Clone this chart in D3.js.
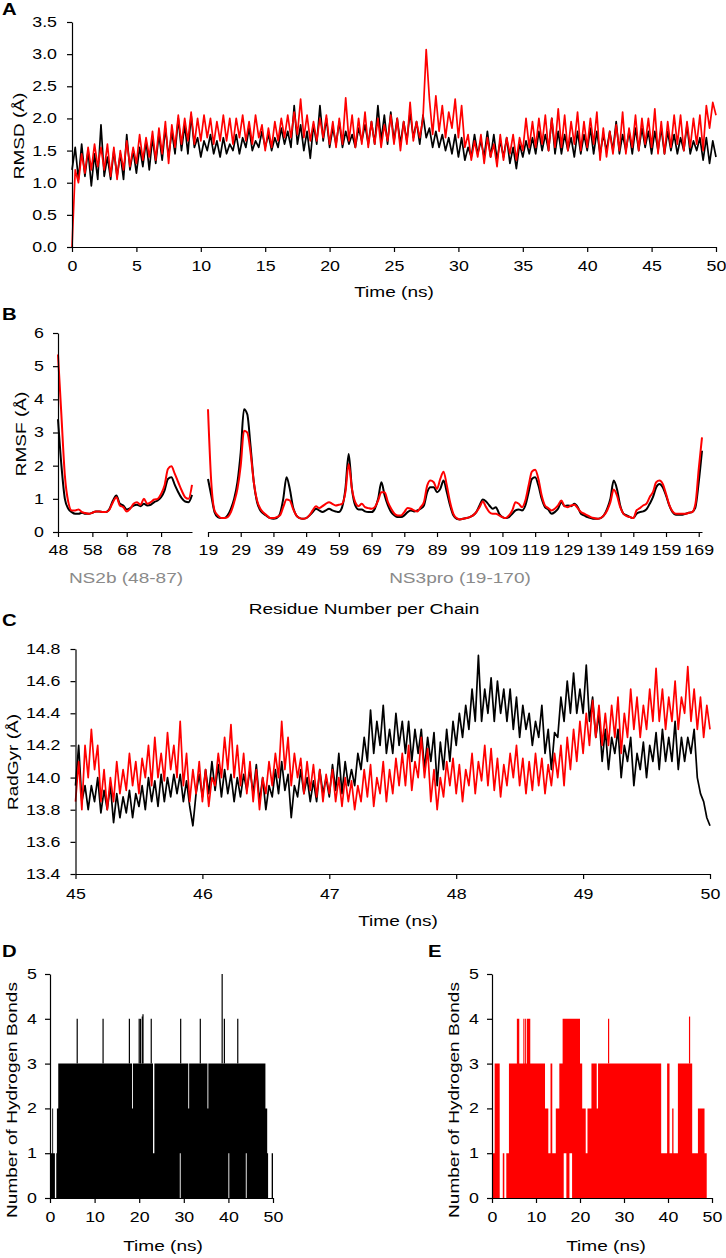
<!DOCTYPE html>
<html>
<head>
<meta charset="utf-8">
<script src="https://cdn.jsdelivr.net/npm/d3@7"></script>
<style>
  body { margin: 0; background: #fff; }
  text { font-family: "Liberation Sans", Arial, sans-serif; }
</style>
</head>
<body>
<svg id="fig" width="726" height="1258"></svg>
<script>
// ---- Panel A: backbone RMSD, sampled every 0.25 ns from 0 to 50 ns
const rmsdStep = 0.25;
const rmsdBlack = [
  1.20,1.55,1.05,1.60, 1.10,1.50,0.95,1.45, 1.05,1.90,1.10,1.40, 1.05,1.50,1.10,1.45, 1.05,1.75,1.20,1.50,
  1.15,1.55,1.25,1.65, 1.20,1.70,1.30,1.75, 1.35,1.85,1.40,1.80, 1.45,2.00,1.50,1.90, 1.45,2.05,1.55,1.70,
  1.40,1.65,1.50,1.75, 1.45,1.65,1.40,1.70, 1.45,1.60,1.50,1.75, 1.45,1.70,1.55,1.85, 1.50,1.65,1.55,1.80,
  1.55,1.75,1.50,1.70, 1.55,1.85,1.60,1.80, 1.55,2.20,1.60,1.90, 1.50,1.80,1.38,1.90, 1.60,2.20,1.65,2.00,
  1.55,1.85,1.60,1.95, 1.55,1.80,1.60,1.75, 1.55,1.85,1.65,1.90, 1.60,1.95,1.60,2.20, 1.65,2.05,1.60,2.10,
  1.65,2.00,1.60,1.95, 1.65,2.10,1.70,1.95, 1.60,2.05,1.70,1.85, 1.55,1.80,1.55,1.75, 1.50,1.70,1.45,1.75,
  1.40,1.70,1.35,1.55, 1.40,1.75,1.45,1.65, 1.40,1.80,1.40,1.75, 1.35,1.65,1.40,1.70, 1.30,1.55,1.22,1.60,
  1.40,1.65,1.45,1.70, 1.45,1.80,1.50,1.75, 1.50,2.00,1.45,1.80, 1.45,1.75,1.50,1.70, 1.40,1.80,1.45,1.75,
  1.50,1.85,1.45,1.80, 1.45,1.75,1.50,1.80, 1.50,1.95,1.45,1.75, 1.50,1.80,1.45,1.85, 1.50,1.85,1.55,1.80,
  1.45,1.80,1.50,1.85, 1.45,1.80,1.50,1.75, 1.45,1.70,1.50,1.90, 1.45,1.65,1.50,1.70, 1.35,1.70,1.30,1.65,
  1.40
];
const rmsdRed = [
  0.00,1.20,1.00,1.45, 1.15,1.55,1.20,1.60, 1.25,1.55,1.20,1.60, 1.10,1.55,1.05,1.50, 1.20,1.65,1.25,1.55,
  1.30,1.75,1.35,1.70, 1.40,1.80,1.35,1.85, 1.45,1.95,1.30,1.90, 1.55,2.05,1.60,2.00, 1.65,2.10,1.60,2.00,
  1.65,2.05,1.70,2.00, 1.60,1.95,1.65,2.05, 1.65,2.00,1.60,2.00, 1.70,2.05,1.65,1.95, 1.60,2.05,1.70,1.90,
  1.50,1.85,1.55,1.95, 1.65,2.00,1.70,2.05, 1.70,2.10,1.75,2.30, 1.70,2.05,1.65,1.95, 1.65,2.00,1.70,2.05,
  1.60,1.95,1.55,2.00, 1.60,2.32,1.65,2.05, 1.55,2.00,1.60,2.10, 1.55,1.95,1.60,2.00, 1.55,1.90,1.65,2.05,
  1.60,2.00,1.50,1.95, 1.60,2.25,1.65,1.95, 1.70,2.00,3.07,2.30, 1.75,2.35,1.80,2.20, 1.70,2.10,1.85,2.30,
  1.70,2.20,1.55,1.75, 1.35,1.65,1.40,1.75, 1.30,1.70,1.40,1.60, 1.25,1.75,1.35,1.70, 1.45,1.75,1.35,1.70,
  1.50,2.00,1.55,1.95, 1.55,2.00,1.60,2.05, 1.50,2.00,1.55,2.15, 1.55,2.05,1.50,1.95, 1.60,2.10,1.50,1.95,
  1.55,2.00,1.60,2.10, 1.35,1.85,1.40,1.80, 1.45,1.90,1.50,2.10, 1.45,1.85,1.55,2.05, 1.50,2.00,1.60,2.00,
  1.55,2.15,1.45,1.95, 1.45,1.95,1.55,2.05, 1.60,2.05,1.50,1.95, 1.55,2.00,1.60,2.05, 1.50,2.20,1.85,2.25,
  2.05
];
const rmsdXTicks = [0, 5, 10, 15, 20, 25, 30, 35, 40, 45, 50];
const rmsdYTicks = [0, 0.5, 1, 1.5, 2, 2.5, 3, 3.5];

// ---- Panel B: RMSF per residue, NS2b 48-87 and NS3pro 19-170
const ns2bStart = 48;
const ns2bBlack = [
  3.40,2.00,1.00,0.70,0.60,0.55,0.55,0.58,0.55,0.55,
  0.58,0.62,0.62,0.60,0.60,0.70,0.95,1.10,0.85,0.80,
  0.68,0.72,0.80,0.82,0.78,0.85,0.80,0.82,0.90,0.95,
  1.05,1.25,1.60,1.65,1.42,1.20,1.02,0.92,0.90,1.12
];
const ns2bRed = [
  5.35,3.50,1.70,0.90,0.65,0.65,0.68,0.60,0.57,0.55,
  0.58,0.62,0.62,0.60,0.60,0.68,0.90,1.05,0.80,0.75,
  0.62,0.70,0.85,0.90,0.82,1.00,0.85,0.90,0.98,1.00,
  1.15,1.40,1.90,1.98,1.75,1.50,1.25,1.05,1.00,1.42
];
const ns3Start = 19;
const ns3Black = [
  1.60,1.10,0.60,0.45,0.42,0.42,0.50,0.70,1.00,1.50,
  2.40,3.70,3.55,2.60,1.50,0.90,0.65,0.55,0.48,0.42,
  0.40,0.42,0.55,1.00,1.65,1.30,0.75,0.50,0.42,0.40,
  0.42,0.50,0.60,0.70,0.65,0.60,0.65,0.70,0.65,0.62,
  0.60,0.75,1.30,2.35,1.30,0.80,0.68,0.68,0.62,0.60,
  0.60,0.70,1.00,1.50,1.10,0.80,0.60,0.50,0.45,0.45,
  0.50,0.60,0.65,0.62,0.65,0.70,0.80,1.20,1.35,1.35,
  1.20,1.30,1.55,1.20,0.80,0.50,0.40,0.38,0.40,0.42,
  0.45,0.50,0.60,0.80,0.98,0.92,0.80,0.70,0.75,0.55,
  0.45,0.42,0.45,0.55,0.65,0.68,0.65,0.80,1.20,1.60,
  1.65,1.40,1.00,0.75,0.68,0.55,0.60,0.70,0.90,0.78,
  0.80,0.78,0.85,0.75,0.55,0.50,0.45,0.42,0.40,0.40,
  0.42,0.50,0.70,1.00,1.55,1.30,0.80,0.55,0.50,0.45,
  0.42,0.55,0.60,0.62,0.68,0.85,1.05,1.35,1.45,1.35,
  1.10,0.80,0.60,0.52,0.52,0.52,0.55,0.58,0.60,0.75,
  1.50,2.45
];
const ns3Red = [
  3.70,1.50,0.65,0.50,0.42,0.42,0.45,0.60,0.90,1.30,
  2.00,3.05,3.00,2.40,1.50,0.95,0.70,0.58,0.50,0.42,
  0.42,0.45,0.50,0.75,0.98,0.95,0.70,0.50,0.42,0.40,
  0.42,0.50,0.65,0.78,0.72,0.78,0.85,0.90,0.85,0.80,
  0.82,0.85,1.20,2.05,1.30,0.90,0.78,0.85,0.75,0.72,
  0.70,0.75,0.95,1.20,1.20,0.90,0.70,0.55,0.50,0.50,
  0.60,0.72,0.70,0.65,0.62,0.75,0.90,1.40,1.55,1.50,
  1.30,1.60,1.82,1.40,0.90,0.55,0.42,0.38,0.40,0.42,
  0.45,0.50,0.60,0.75,0.92,0.75,0.60,0.55,0.55,0.50,
  0.45,0.42,0.50,0.65,0.90,0.85,0.75,0.95,1.40,1.82,
  1.88,1.60,1.10,0.80,0.72,0.65,0.70,0.80,0.95,0.78,
  0.75,0.80,0.82,0.72,0.60,0.55,0.50,0.45,0.42,0.40,
  0.42,0.50,0.65,0.90,1.28,1.10,0.75,0.55,0.48,0.45,
  0.42,0.65,0.72,0.80,0.85,1.05,1.20,1.50,1.55,1.45,
  1.15,0.82,0.62,0.55,0.55,0.55,0.55,0.58,0.60,0.85,
  1.90,2.85
];
const ns2bTicks = [48, 58, 68, 78];
const ns3Ticks = [19, 29, 39, 49, 59, 69, 79, 89, 99, 109, 119, 129, 139, 149, 159, 169];
const rmsfYTicks = [0, 1, 2, 3, 4, 5, 6];

// ---- Panel C: radius of gyration, 45-50 ns sampled every 0.025 ns
const rgStart = 45, rgStep = 0.025;
const rgBlack = [
  13.95,14.20,13.85,13.95, 13.80,13.95,13.85,14.00, 13.78,13.92,13.80,13.95, 13.72,13.90,13.75,13.88, 13.78,13.92,13.75,13.90,
  13.82,13.95,13.80,14.00, 13.85,13.98,13.82,14.02, 13.85,14.00,13.88,14.02, 13.90,14.02,13.85,13.98, 13.82,13.70,13.90,14.02,
  13.88,14.05,13.90,14.10, 13.92,14.08,13.88,14.05, 13.90,14.02,13.85,14.00, 13.88,14.02,13.92,14.05, 13.90,14.08,13.85,14.00,
  13.80,13.95,13.88,14.05, 13.90,14.10,13.92,14.02, 13.75,13.95,13.88,14.05, 13.90,14.00,13.85,13.98, 13.85,14.05,13.90,14.00,
  13.88,14.08,13.92,14.15, 13.90,14.10,13.95,14.05, 13.95,14.15,14.05,14.25, 14.10,14.42,14.15,14.35, 14.20,14.45,14.15,14.30,
  14.15,14.40,14.20,14.35, 14.15,14.35,14.10,14.30, 14.15,14.30,14.05,14.25, 14.10,14.28,13.95,14.22, 14.05,14.30,14.10,14.35,
  14.20,14.40,14.25,14.45, 14.30,14.55,14.35,14.76, 14.35,14.55,14.40,14.62, 14.35,14.60,14.40,14.55, 14.35,14.55,14.30,14.50,
  14.25,14.45,14.30,14.40, 14.20,14.35,14.25,14.45, 14.15,14.30,14.05,14.28, 14.25,14.50,14.35,14.60, 14.40,14.65,14.40,14.55,
  14.40,14.70,14.35,14.50, 14.25,14.40,14.10,14.30, 14.05,14.25,14.15,14.30, 14.00,14.20,14.10,14.25, 13.95,14.15,14.05,14.22,
  14.00,14.20,14.10,14.28, 14.05,14.30,14.10,14.25, 14.10,14.35,14.05,14.25, 14.10,14.25,14.15,14.30, 14.00,13.90,13.85,13.75,
  13.70
];
const rgRed = [
  13.85,14.10,13.80,14.20, 14.00,14.30,14.05,14.20, 13.85,14.05,13.80,14.00, 13.85,14.10,13.90,14.05, 13.92,14.15,13.95,14.10,
  13.90,14.12,14.00,14.20, 13.95,14.25,14.00,14.15, 13.98,14.28,14.05,14.20, 14.00,14.35,13.95,14.15, 13.85,14.05,13.90,14.10,
  13.85,14.05,13.82,14.00, 13.95,14.15,14.00,14.25, 14.05,14.33,14.00,14.20, 13.95,14.15,13.90,14.10, 13.85,14.05,13.80,14.00,
  13.90,14.10,13.95,14.15, 14.00,14.35,14.05,14.25, 13.95,14.15,14.00,14.12, 13.90,14.10,13.92,14.08, 13.88,14.05,13.85,14.02,
  13.90,14.05,13.85,14.00, 13.82,14.00,13.85,13.98, 13.80,13.95,13.85,14.05, 13.88,14.08,13.82,14.00, 13.90,14.10,13.85,14.05,
  13.90,14.12,13.95,14.15, 13.95,14.20,13.92,14.10, 14.00,14.25,14.00,14.18, 13.85,14.05,13.80,14.00, 13.88,14.10,13.95,14.12,
  13.90,14.08,13.85,14.05, 13.95,14.15,13.90,14.10, 13.98,14.20,13.95,14.18, 13.92,14.12,13.88,14.08, 13.95,14.15,14.00,14.20,
  13.95,14.12,13.90,14.10, 13.92,14.15,13.95,14.12, 13.90,14.08,13.95,14.15, 14.00,14.20,13.95,14.25, 14.05,14.30,14.10,14.35,
  14.15,14.40,14.20,14.48, 14.25,14.45,14.20,14.40, 14.20,14.45,14.25,14.50, 14.15,14.40,14.25,14.55, 14.30,14.50,14.25,14.45,
  14.30,14.55,14.35,14.68, 14.35,14.55,14.30,14.50, 14.35,14.60,14.30,14.50, 14.40,14.69,14.35,14.55, 14.30,14.50,14.25,14.45,
  14.30
];
const rgXTicks = [45, 46, 47, 48, 49, 50];
const rgYTicks = [13.4, 13.6, 13.8, 14.0, 14.2, 14.4, 14.6, 14.8];

// ---- Panels D/E: hydrogen bonds, drawn as step bands (segment start time, lowest and highest count)
const hbBlackT  = [0, 0.5, 0.7, 1.1, 1.4, 1.55, 1.85, 18.4, 18.6, 23.1, 23.4, 29.1, 29.3, 31.0, 31.2, 35.3, 35.5, 40.0, 40.2, 43.9, 44.1, 48.3, 48.7, 48.9, 49.7, 50];
const hbBlackLo = [0, 0,   0,   0,   0,   0,    0,    0,    0,    0,    0,    1,    0,    0,    0,    0,    0,    1,    0,    1,    0,    0,    0,    0,    0,    0];
const hbBlackHi = [1, 2,   1,   0,   1,   2,    3,    2,    3,    1,    3,    3,    3,    2,    3,    2,    3,    3,    3,    3,    3,    2,    1,    0,    1,    1];
const hbBlackSpikeT = [6.1, 11.9, 17.8, 20.0, 20.3, 20.7, 20.85, 22.7, 29.3, 33.7, 38.6, 39.1, 42.1];
const hbBlackSpikeV = [4, 4, 4, 4, 4, 4.05, 4.1, 4, 4, 4, 5, 4, 4];

const hbRedT  = [0, 0.6, 1.75, 2.45, 2.8, 3.25, 3.85, 5.65, 6.2, 7.1, 7.25, 7.4, 7.7, 7.9, 8.7, 12.05, 12.8, 13.3, 13.7, 14.5, 15.3, 16.05, 16.3, 16.9, 17.6, 18.2, 20.0, 20.5, 21.3, 21.7, 22.6, 23.8, 24.1, 38.45, 39.8, 40.35, 40.95, 41.25, 42.25, 45.5, 46.8, 48.3, 48.8, 50];
const hbRedLo = [0, 0,   0,    0,    0,   0,    0,    0,    0,   0,   0,    0,   0,   0,   0,   0,     0,    0,    0,    0,    0,    0,     1,    0,    1,    0,    0,    0,    0,    0,    0,    0,    0,    0,     0,    0,     0,     0,     0,     0,    0,    0,    0,    0];
const hbRedHi = [1, 3,   0,    1,    0,   1,    3,    4,    3,   4,   3,    4,   3,   4,   3,   2,     1,    3,    1,    2,    3,    4,     4,    4,    4,    4,    3,    2,    1,    2,    3,    2,    3,    1,     3,    1,     2,     1,     3,     1,    2,    1,    0,    0];
const hbRedSpikeT = [26.5, 44.9];
const hbRedSpikeV = [4.0, 4.05];
const hbXTicks = [0, 10, 20, 30, 40, 50];
const hbYTicks = [0, 1, 2, 3, 4, 5];

const RED = '#ff0000', BLACK = '#000000', GREY = '#8a8a8a';
const K = 1.27; // glyphs in the figure are stretched along the writing direction
const fInt = d3.format('d'), fOne = d3.format('.1f');

const svg = d3.select('#fig');

// stretch axis tick labels without moving their anchor point
function stretch(sel) {
  sel.each(function () {
    const t = d3.select(this);
    const x = +t.attr('x') || 0;
    t.attr('x', x / K).attr('transform', `scale(${K},1)`);
  });
}

function label(x, y, txt, opt = {}) {
  const g = svg.append('g')
    .attr('transform', `translate(${x},${y})` + (opt.rotate ? ' rotate(-90)' : ''));
  g.append('text')
    .attr('transform', `scale(${K},1)`)
    .attr('text-anchor', opt.anchor || 'middle')
    .attr('font-size', opt.size || 15)
    .attr('font-weight', opt.bold ? 'bold' : null)
    .attr('fill', opt.fill || BLACK)
    .text(txt);
}

function drawAxis(axis, tx, ty) {
  const g = svg.append('g')
    .attr('transform', `translate(${tx},${ty})`)
    .call(axis);
  g.attr('font-size', 14).attr('font-family', '"Liberation Sans", Arial, sans-serif');
  g.select('.domain').attr('stroke', BLACK).attr('stroke-width', 1.2);
  g.selectAll('.tick line').attr('stroke', BLACK).attr('stroke-width', 1.2);
  g.selectAll('.tick text').attr('fill', BLACK).call(stretch);
  return g;
}

// ================= Panel A =================
const xA = d3.scaleLinear([0, 50], [72, 716]);
const yA = d3.scaleLinear([0, 3.5], [247, 22]);

const lineA = d3.line().x((d, i) => xA(i * rmsdStep)).y(d => yA(d));
svg.append('path').datum(rmsdBlack).attr('d', lineA)
  .attr('fill', 'none').attr('stroke', BLACK).attr('stroke-width', 1.7).attr('stroke-linejoin', 'round');
svg.append('path').datum(rmsdRed).attr('d', lineA)
  .attr('fill', 'none').attr('stroke', RED).attr('stroke-width', 1.7).attr('stroke-linejoin', 'round');

drawAxis(d3.axisBottom(xA).tickValues(rmsdXTicks).tickFormat(fInt).tickSize(5).tickPadding(9).tickSizeOuter(0), 0, 247);
drawAxis(d3.axisLeft(yA).tickValues(rmsdYTicks).tickFormat(fOne).tickSize(5).tickPadding(10).tickSizeOuter(0), 72, 0);

label(2, 15, 'A', { anchor: 'start', bold: true, size: 16 });
label(394, 297, 'Time (ns)');
label(24, 136, 'RMSD (Å)', { rotate: true });

// ================= Panel B =================
const yB = d3.scaleLinear([0, 6], [532, 333]);
const xB1 = d3.scaleLinear([48, 87], [58, 192]);
const xB2 = d3.scaleLinear([19, 170], [208, 702]);

const lineB1 = d3.line().curve(d3.curveMonotoneX).x((d, i) => xB1(ns2bStart + i)).y(d => yB(d));
const lineB2 = d3.line().curve(d3.curveMonotoneX).x((d, i) => xB2(ns3Start + i)).y(d => yB(d));

[[ns2bBlack, lineB1, BLACK], [ns3Black, lineB2, BLACK], [ns2bRed, lineB1, RED], [ns3Red, lineB2, RED]]
  .forEach(([data, gen, col]) => {
    svg.append('path').datum(data).attr('d', gen)
      .attr('fill', 'none').attr('stroke', col).attr('stroke-width', 2).attr('stroke-linejoin', 'round');
  });

drawAxis(d3.axisBottom(xB1).tickValues(ns2bTicks).tickFormat(fInt).tickSize(5).tickPadding(8).tickSizeOuter(0), 0, 532);
drawAxis(d3.axisBottom(xB2).tickValues(ns3Ticks).tickFormat(fInt).tickSize(5).tickPadding(8).tickSizeOuter(0), 0, 532);
drawAxis(d3.axisLeft(yB).tickValues(rmsfYTicks).tickFormat(fInt).tickSize(5).tickPadding(9).tickSizeOuter(0), 58, 0);

label(2, 320, 'B', { anchor: 'start', bold: true, size: 16 });
label(26, 434, 'RMSF (Å)', { rotate: true });
label(126, 583, 'NS2b (48-87)', { fill: GREY });
label(460, 583, 'NS3pro (19-170)', { fill: GREY });
label(364, 614, 'Residue Number per Chain');

// ================= Panel C =================
const xC = d3.scaleLinear([45, 50], [75.5, 710]);
const yC = d3.scaleLinear([13.4, 14.8], [874, 649]);

const lineC = d3.line().x((d, i) => xC(rgStart + i * rgStep)).y(d => yC(d));
svg.append('path').datum(rgBlack).attr('d', lineC)
  .attr('fill', 'none').attr('stroke', BLACK).attr('stroke-width', 1.7).attr('stroke-linejoin', 'round');
svg.append('path').datum(rgRed).attr('d', lineC)
  .attr('fill', 'none').attr('stroke', RED).attr('stroke-width', 1.7).attr('stroke-linejoin', 'round');

drawAxis(d3.axisBottom(xC).tickValues(rgXTicks).tickFormat(fInt).tickSize(5).tickPadding(10).tickSizeOuter(0), 0, 874);
drawAxis(d3.axisLeft(yC).tickValues(rgYTicks).tickFormat(fOne).tickSize(5).tickPadding(10).tickSizeOuter(0), 75.5, 0);

label(2, 626, 'C', { anchor: 'start', bold: true, size: 16 });
label(398, 926, 'Time (ns)');
label(18, 762, 'RadGyr (Å)', { rotate: true });

// ================= Panels D and E =================
const yH = d3.scaleLinear([0, 5], [1198, 974]);

function hbPanel(xs, T, lo, hi, spikeT, spikeV, col) {
  const rows = T.map((t, i) => ({ t, lo: lo[i], hi: hi[i] }));
  const area = d3.area().curve(d3.curveStepAfter)
    .x(d => xs(d.t)).y0(d => yH(d.lo)).y1(d => yH(d.hi));
  svg.append('path').datum(rows).attr('d', area).attr('fill', col);
  svg.append('g').selectAll('line')
    .data(spikeT.map((t, i) => ({ t, v: spikeV[i] })))
    .join('line')
    .attr('x1', d => xs(d.t)).attr('x2', d => xs(d.t))
    .attr('y1', yH(3)).attr('y2', d => yH(d.v))
    .attr('stroke', col).attr('stroke-width', 1.2);
  drawAxis(d3.axisBottom(xs).tickValues(hbXTicks).tickFormat(fInt).tickSize(5).tickPadding(9).tickSizeOuter(0), 0, 1198);
  drawAxis(d3.axisLeft(yH).tickValues(hbYTicks).tickFormat(fInt).tickSize(5).tickPadding(8).tickSizeOuter(0), xs(0), 0);
}

const xD = d3.scaleLinear([0, 50], [50, 273]);
const xE = d3.scaleLinear([0, 50], [492, 712]);

hbPanel(xD, hbBlackT, hbBlackLo, hbBlackHi, hbBlackSpikeT, hbBlackSpikeV, BLACK);
hbPanel(xE, hbRedT, hbRedLo, hbRedHi, hbRedSpikeT, hbRedSpikeV, RED);

label(2, 957, 'D', { anchor: 'start', bold: true, size: 16 });
label(428, 957, 'E', { anchor: 'start', bold: true, size: 16 });
label(163, 1251, 'Time (ns)');
label(606, 1251, 'Time (ns)');
label(17, 1100, 'Number of Hydrogen Bonds', { rotate: true });
label(459, 1100, 'Number of Hydrogen Bonds', { rotate: true });
</script>
</body>
</html>
